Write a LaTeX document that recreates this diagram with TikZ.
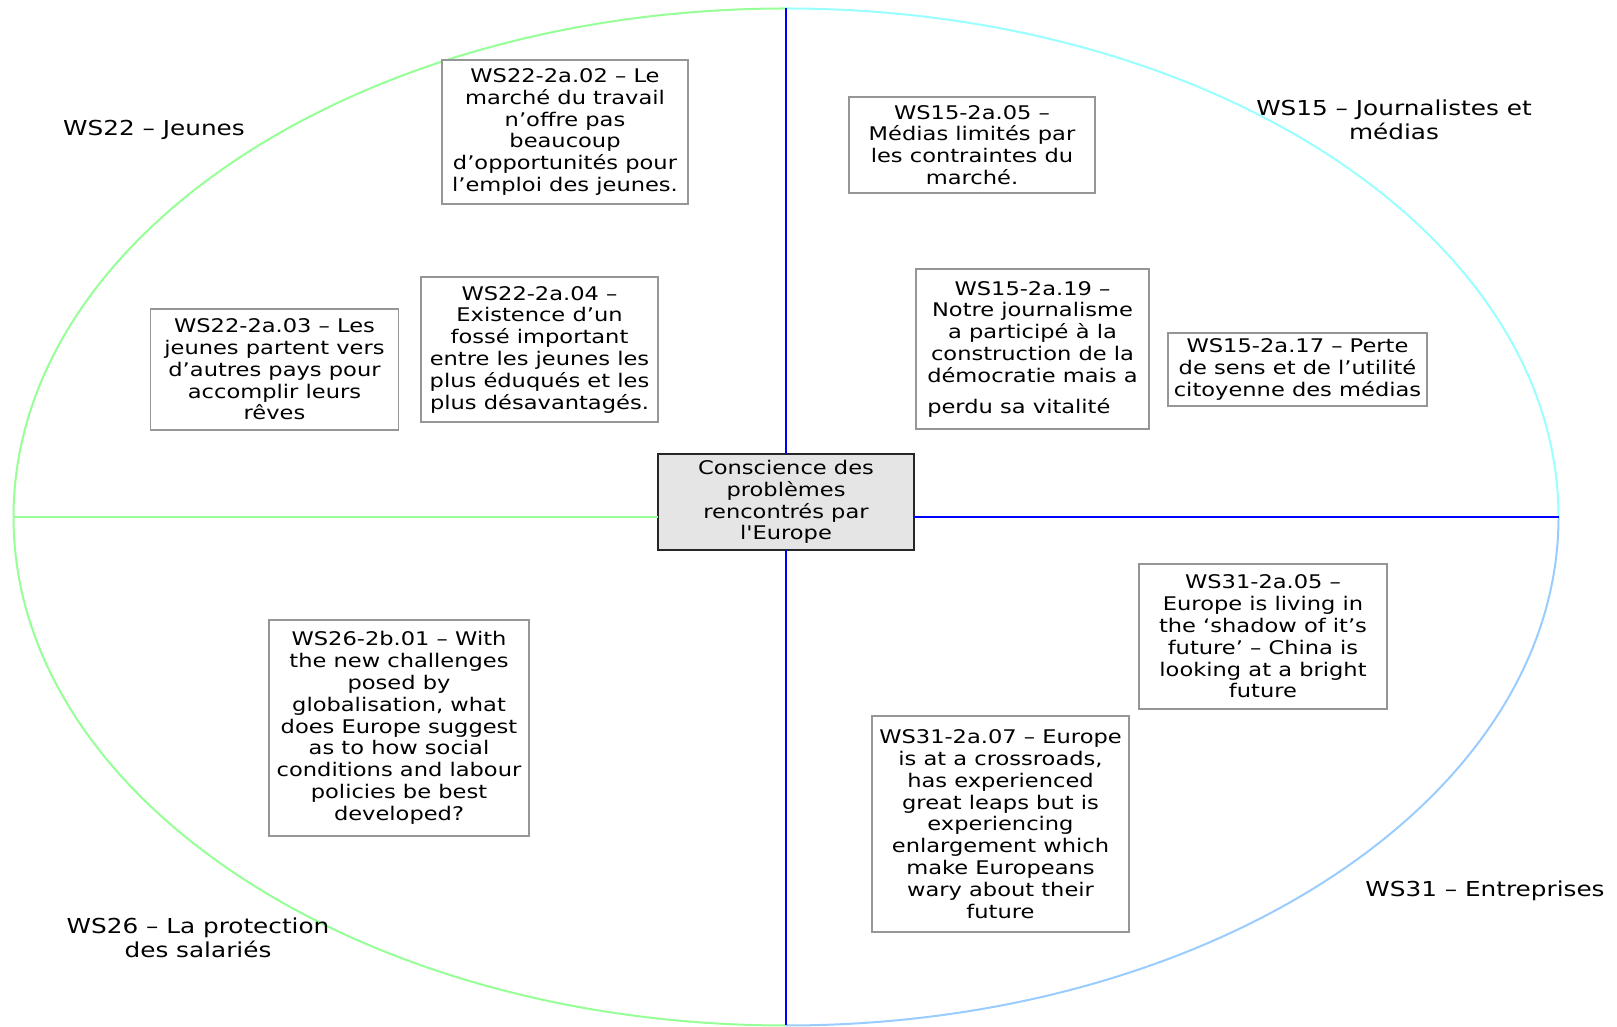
\documentclass[tikz,border=0pt]{standalone}
\usepackage{fontspec}
\usepackage{calc}
\newfontfamily\dv{DejaVu Sans}[FakeStretch=1.2]
\definecolor{lgreen}{RGB}{150,255,150}
\definecolor{lcyan}{RGB}{153,255,255}
\definecolor{lblue}{RGB}{153,204,255}
\definecolor{pblue}{RGB}{0,0,255}
\definecolor{bxgray}{RGB}{150,150,150}
\definecolor{cfill}{RGB}{229,229,229}
\tikzset{
  idea/.style={draw=bxgray, line width=1.3pt, fill=white, inner sep=0pt, outer sep=0pt,
    align=center, font=\dv\fontsize{18.8}{21.8}\selectfont},
  core/.style={draw=black!85, line width=1.3pt, fill=cfill, inner sep=0pt, outer sep=0pt,
    align=center, font=\dv\fontsize{18.8}{21.8}\selectfont},
  grouplabel/.style={align=center, inner sep=0pt, font=\dv\fontsize{20.6}{24}\selectfont},
  axis/.style={line width=2pt, pblue},
}
\begin{document}
\begin{tikzpicture}[x=1pt,y=1pt]
\useasboundingbox (0,0) rectangle (1617,1027);
% ellipse quadrants
\draw[lcyan, line width=2pt] (1558.5,510) arc[start angle=0, end angle=90, x radius=772.5, y radius=508.5];
\draw[lgreen, line width=2pt] (786,1018.5) arc[start angle=90, end angle=180, x radius=772.5, y radius=508.5];
\draw[lgreen, line width=2pt] (13.5,510) arc[start angle=180, end angle=270, x radius=772.5, y radius=508.5];
\draw[lblue, line width=2pt] (786,1.5) arc[start angle=270, end angle=360, x radius=772.5, y radius=508.5];

% central node
\node[core, minimum width=256pt, minimum height=96pt] (c) at (786,525)
  {Conscience des\\problèmes\\rencontrés par\\l'Europe};

\coordinate (top) at (786,1018.5);
\coordinate (bot) at (786,1.5);
\coordinate (lft) at (13.5,510);
\coordinate (rgt) at (1558.5,510);
\draw[axis] (top) -- (c.north);
\draw[axis] (c.south) -- (bot);
\draw[lgreen, line width=2pt] (lft) -- (lft -| c.west);
\draw[axis] (c.east |- rgt) -- (rgt);

% WS22 boxes
\node[idea, minimum width=246pt, minimum height=144pt] (b02) at (565,895)
  {WS22-2a.02 – Le\\marché du travail\\n’offre pas\\beaucoup\\d’opportunités pour\\l’emploi des jeunes.};
\node[idea, minimum width=237pt, minimum height=145pt] (b04) at (539.5,677.5)
  {WS22-2a.04 –\\Existence d’un\\fossé important\\entre les jeunes les\\plus éduqués et les\\plus désavantagés.};
\node[idea, minimum width=248pt, minimum height=121pt] (b03) at (274.5,657.5)
  {WS22-2a.03 – Les\\jeunes partent vers\\d’autres pays pour\\accomplir leurs\\rêves};

% WS15 boxes
\node[idea, minimum width=246pt, minimum height=96pt] (b1505) at (972,882)
  {WS15-2a.05 –\\Médias limités par\\les contraintes du\\marché.};
\node[idea, minimum width=233pt, minimum height=160pt] (b1519) at (1032.5,678)
  {WS15-2a.19 –\\Notre journalisme\\a participé à la\\construction de la\\démocratie mais a\\[9pt]\makebox[\widthof{démocratie mais a}][l]{perdu sa vitalité}};
\node[idea, minimum width=259pt, minimum height=73pt] (b1517) at (1297.5,657.5)
  {WS15-2a.17 – Perte\\de sens et de l’utilité\\citoyenne des médias};

% WS31 boxes
\node[idea, minimum width=248pt, minimum height=145pt] (b3105) at (1263,390.5)
  {WS31-2a.05 –\\Europe is living in\\the ‘shadow of it’s\\future’ – China is\\looking at a bright\\future};
\node[idea, minimum width=257pt, minimum height=216pt] (b3107) at (1000.5,203)
  {WS31-2a.07 – Europe\\is at a crossroads,\\has experienced\\great leaps but is\\experiencing\\enlargement which\\make Europeans\\wary about their\\future};

% WS26 box
\node[idea, minimum width=260pt, minimum height=216pt] (b2601) at (399,299)
  {WS26-2b.01 – With\\the new challenges\\posed by\\globalisation, what\\does Europe suggest\\as to how social\\conditions and labour\\policies be best\\developed?};

% group labels
\node[grouplabel] (l22) at (154,897) {WS22 – Jeunes};
\node[grouplabel] (l15) at (1394,907) {WS15 – Journalistes et\\médias};
\node[grouplabel] (l31) at (1485,136) {WS31 – Entreprises};
\node[grouplabel] (l26) at (198,89.5) {WS26 – La protection\\des salariés};
\end{tikzpicture}
\end{document}
